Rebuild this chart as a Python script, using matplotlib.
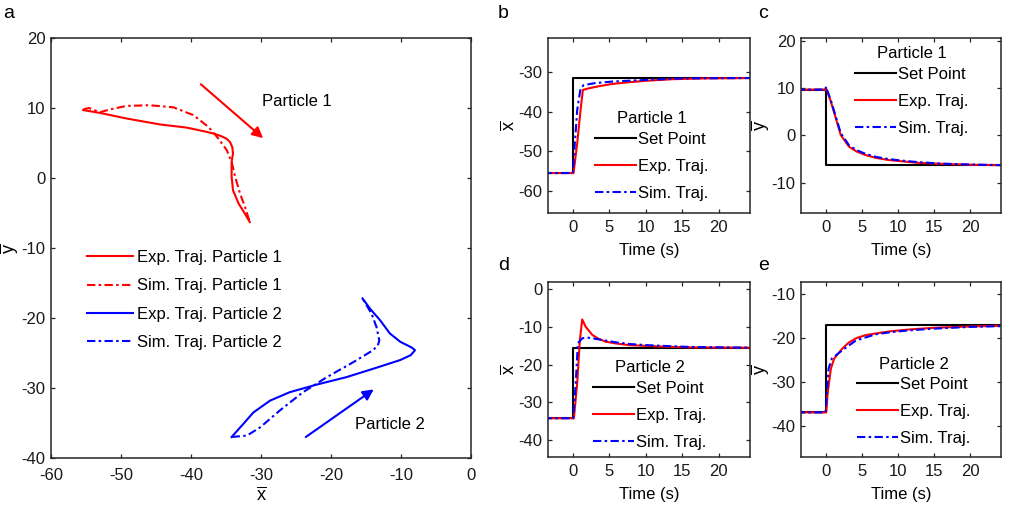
import numpy as np
import matplotlib
matplotlib.use("Agg")
import matplotlib.pyplot as plt

plt.rcParams['font.family'] = ['Liberation Sans', 'DejaVu Sans']
plt.rcParams['mathtext.fontset'] = 'custom'
plt.rcParams['mathtext.rm'] = 'Liberation Sans'
plt.rcParams['mathtext.it'] = 'Liberation Sans'
plt.rcParams['axes.unicode_minus'] = False

# ---- panel a: trajectories in the plane ----
p1_exp_x = [-55.4, -53.0, -49.2, -44.4, -40.6, -37.8, -36.6, -35.6, -34.9, -34.4, -34.1, -34.0, -34.2, -34.2, -34.0, -33.2, -32.3, -31.6]
p1_exp_y = [9.7, 9.3, 8.5, 7.65, 7.2, 6.6, 6.3, 5.95, 5.6, 5.1, 4.4, 3.5, 2.3, 0.2, -1.75, -3.65, -5.1, -6.3]
p1_sim_x = [-55.4, -54.6, -53.0, -51.6, -49.2, -45.9, -42.5, -39.7, -37.5, -36.1, -34.9, -34.2, -33.7, -33.0, -32.3, -31.6]
p1_sim_y = [9.8, 10.0, 9.4, 9.8, 10.3, 10.4, 10.1, 9.0, 7.3, 5.65, 4.0, 2.3, 0.2, -2.2, -4.1, -6.3]

p2_exp_x = [-34.2, -32.5, -31.1, -28.7, -25.9, -22.0, -17.8, -13.5, -10.1, -8.6, -8.0, -8.5, -10.1, -11.6, -13.0, -14.4, -15.5]
p2_exp_y = [-37.0, -35.1, -33.5, -31.8, -30.6, -29.5, -28.45, -27.1, -26.0, -25.3, -24.6, -24.2, -23.4, -22.2, -20.3, -18.7, -17.2]
p2_sim_x = [-34.2, -32.0, -30.1, -27.3, -24.0, -20.6, -16.8, -14.0, -13.3, -13.1, -13.5, -14.2, -15.5]
p2_sim_y = [-37.0, -36.8, -35.6, -33.2, -30.6, -28.45, -26.3, -24.6, -23.9, -23.2, -21.3, -19.4, -17.2]

arrow1 = [(-38.6, 13.4), (-29.7, 5.7)]
arrow2 = [(-23.6, -37.0), (-13.9, -30.2)]

# ---- panels b-e: time responses ----
set_t = [-4, 0, 0, 25]

b_set = [-55.5, -55.5, -31.4, -31.4]
b_exp_t = [-4, 0.1, 0.6, 1.06, 1.38, 2.2, 3.5, 5.4, 7.5, 10, 13.7, 18, 25]
b_exp = [-55.5, -55.5, -48.0, -39.6, -34.5, -34.1, -33.6, -33.0, -32.6, -32.2, -31.8, -31.6, -31.5]
b_sim_t = [-4, 0, 0.28, 0.6, 1.06, 1.5, 3, 5.4, 7.5, 10, 15, 25]
b_sim = [-55.5, -55.5, -48.0, -39.6, -34.1, -33.3, -32.8, -32.4, -32.2, -32.0, -31.6, -31.5]

c_set = [9.7, 9.7, -6.3, -6.3]
c_t = [-4, 0, 0.05, 0.74, 1.43, 2.1, 3.26, 4.3, 5.55, 7, 8.76, 10.8, 12.9, 16, 20, 25]
c_exp = [9.7, 9.7, 10.1, 7.1, 3.6, 0.1, -2.4, -3.4, -4.15, -4.75, -5.2, -5.5, -5.8, -6.0, -6.2, -6.3]
c_sim = [9.7, 9.7, 10.3, 7.4, 3.9, 0.5, -2.1, -3.1, -3.9, -4.55, -5.0, -5.35, -5.65, -5.95, -6.15, -6.3]

d_set = [-34.2, -34.2, -15.5, -15.5]
d_exp_t = [-4, 0.15, 0.6, 0.97, 1.29, 1.75, 2.67, 3.5, 4.5, 6, 7.7, 10, 12.3, 16, 25]
d_exp = [-34.2, -34.2, -24.9, -13.4, -8.0, -9.9, -12.1, -13.1, -13.9, -14.4, -14.8, -15.0, -15.2, -15.4, -15.5]
d_sim_t = [-4, 0.05, 0.4, 0.69, 1.29, 1.97, 3, 4.5, 6, 7.7, 10, 12.3, 16, 25]
d_sim = [-34.2, -34.2, -24.9, -14.3, -13.0, -12.8, -13.1, -13.6, -14.1, -14.5, -14.8, -15.0, -15.3, -15.5]

e_set = [-36.9, -36.9, -17.0, -17.0]
e_exp_t = [-4, 0.1, 0.28, 0.74, 1.2, 2.34, 3.2, 4.2, 5.5, 6.9, 9, 11.5, 15, 20, 25]
e_exp = [-36.9, -36.9, -32.6, -26.9, -24.6, -22.3, -21.0, -20.0, -19.3, -18.9, -18.4, -18.0, -17.6, -17.3, -17.1]
e_sim_t = [-4, 0, 0.42, 0.87, 2.34, 4.2, 6.9, 9, 11.5, 15, 20, 25]
e_sim = [-36.9, -36.9, -26.9, -24.6, -22.7, -20.5, -19.1, -18.6, -18.2, -17.8, -17.4, -17.2]

FS = 12
DASHDOT = (0, (4, 1.6, 1.2, 1.6))
DARK = '#262626'


def style_axes(ax, pad=4):
    for s in ax.spines.values():
        s.set_linewidth(1.1)
        s.set_color(DARK)
    ax.tick_params(direction='in', top=True, right=True, length=3.2, width=0.9,
                   labelsize=FS, colors=DARK, labelcolor='#1a1a1a', pad=pad)


fig = plt.figure(figsize=(10.16, 5.09), dpi=100)

# panel a
axa = fig.add_axes([0.0502, 0.1002, 0.4134, 0.8251])
axa.plot(p1_exp_x, p1_exp_y, color='red', lw=1.5, label='Exp. Traj. Particle 1')
axa.plot(p1_sim_x, p1_sim_y, color='red', lw=1.5, ls=DASHDOT, label='Sim. Traj. Particle 1')
axa.plot(p2_exp_x, p2_exp_y, color='blue', lw=1.5, label='Exp. Traj. Particle 2')
axa.plot(p2_sim_x, p2_sim_y, color='blue', lw=1.5, ls=DASHDOT, label='Sim. Traj. Particle 2')
for arr, col in [(arrow1, 'red'), (arrow2, 'blue')]:
    axa.annotate('', xy=arr[1], xytext=arr[0],
                 arrowprops=dict(arrowstyle='-|>', color=col, lw=1.5, mutation_scale=16,
                                 shrinkA=0, shrinkB=0))
axa.text(-29.9, 11.0, 'Particle 1', fontsize=FS, va='center', ha='left')
axa.text(-16.6, -35.2, 'Particle 2', fontsize=FS, va='center', ha='left')
axa.set_xlim(-60, 0)
axa.set_ylim(-40, 20)
axa.set_xticks(np.arange(-60, 1, 10))
axa.set_yticks(np.arange(-40, 21, 10))
style_axes(axa)
axa.tick_params(axis='x', pad=7)
axa.set_xlabel(r'$\overline{\mathrm{x}}$', fontsize=FS + 1, labelpad=3)
axa.set_ylabel(r'$\overline{\mathrm{y}}$', fontsize=FS + 1, labelpad=1)
axa.legend(loc='upper left', bbox_to_anchor=(0.085, 0.495), frameon=False, fontsize=FS,
           handlelength=2.75, handletextpad=0.25, labelspacing=0.8, borderpad=0, borderaxespad=0)

small = [
    ([0.5394, 0.5815, 0.1988, 0.3438], b_set, b_exp_t, b_exp, b_sim_t, b_sim,
     (-65.6, -21.4), [-60, -50, -40, -30], 'x', 'Particle 1', (0.235, 0.07)),
    ([0.7884, 0.5815, 0.1969, 0.3438], c_set, c_t, c_exp, c_t, c_sim,
     (-16.4, 20.6), [-10, 0, 10, 20], 'y', 'Particle 1', (0.27, 0.44)),
    ([0.5394, 0.1027, 0.1988, 0.3438], d_set, d_exp_t, d_exp, d_sim_t, d_sim,
     (-44.4, 2.0), [-40, -30, -20, -10, 0], 'x', 'Particle 2', (0.225, 0.04)),
    ([0.7884, 0.1027, 0.1969, 0.3438], e_set, e_exp_t, e_exp, e_sim_t, e_sim,
     (-47.0, -7.1), [-40, -30, -20, -10], 'y', 'Particle 2', (0.28, 0.06)),
]

for rect, sp, et, ev, st, sv, ylim, yt, var, title, anchor in small:
    ax = fig.add_axes(rect)
    ax.plot(set_t, sp, color='black', lw=1.5, label='Set Point')
    ax.plot(et, ev, color='red', lw=1.5, label='Exp. Traj.')
    ax.plot(st, sv, color='blue', lw=1.5, ls=DASHDOT, label='Sim. Traj.')
    ax.set_xlim(-3.4, 24.3)
    ax.set_ylim(*ylim)
    ax.set_xticks([0, 5, 10, 15, 20])
    ax.set_yticks(yt)
    style_axes(ax)
    ax.tick_params(axis='x', pad=5)
    ax.set_xlabel('Time (s)', fontsize=FS, labelpad=6)
    ax.set_ylabel(r'$\overline{\mathrm{%s}}$' % var, fontsize=FS + 1, labelpad=0)
    leg = ax.legend(loc='lower left', bbox_to_anchor=anchor, frameon=False, fontsize=FS,
                    title=title, title_fontsize=FS, handlelength=2.45, handletextpad=0.12,
                    labelspacing=0.72, borderpad=0, borderaxespad=0)
    leg._legend_box.sep = 4

for lab, xp, yp in [('a', 3, 14), ('b', 498, 14), ('c', 758, 14), ('d', 498, 265), ('e', 758, 265)]:
    fig.text(xp / 1016, 1 - yp / 509, lab, fontsize=14, ha='left', va='center')

fig.savefig('out.png', dpi=100)
